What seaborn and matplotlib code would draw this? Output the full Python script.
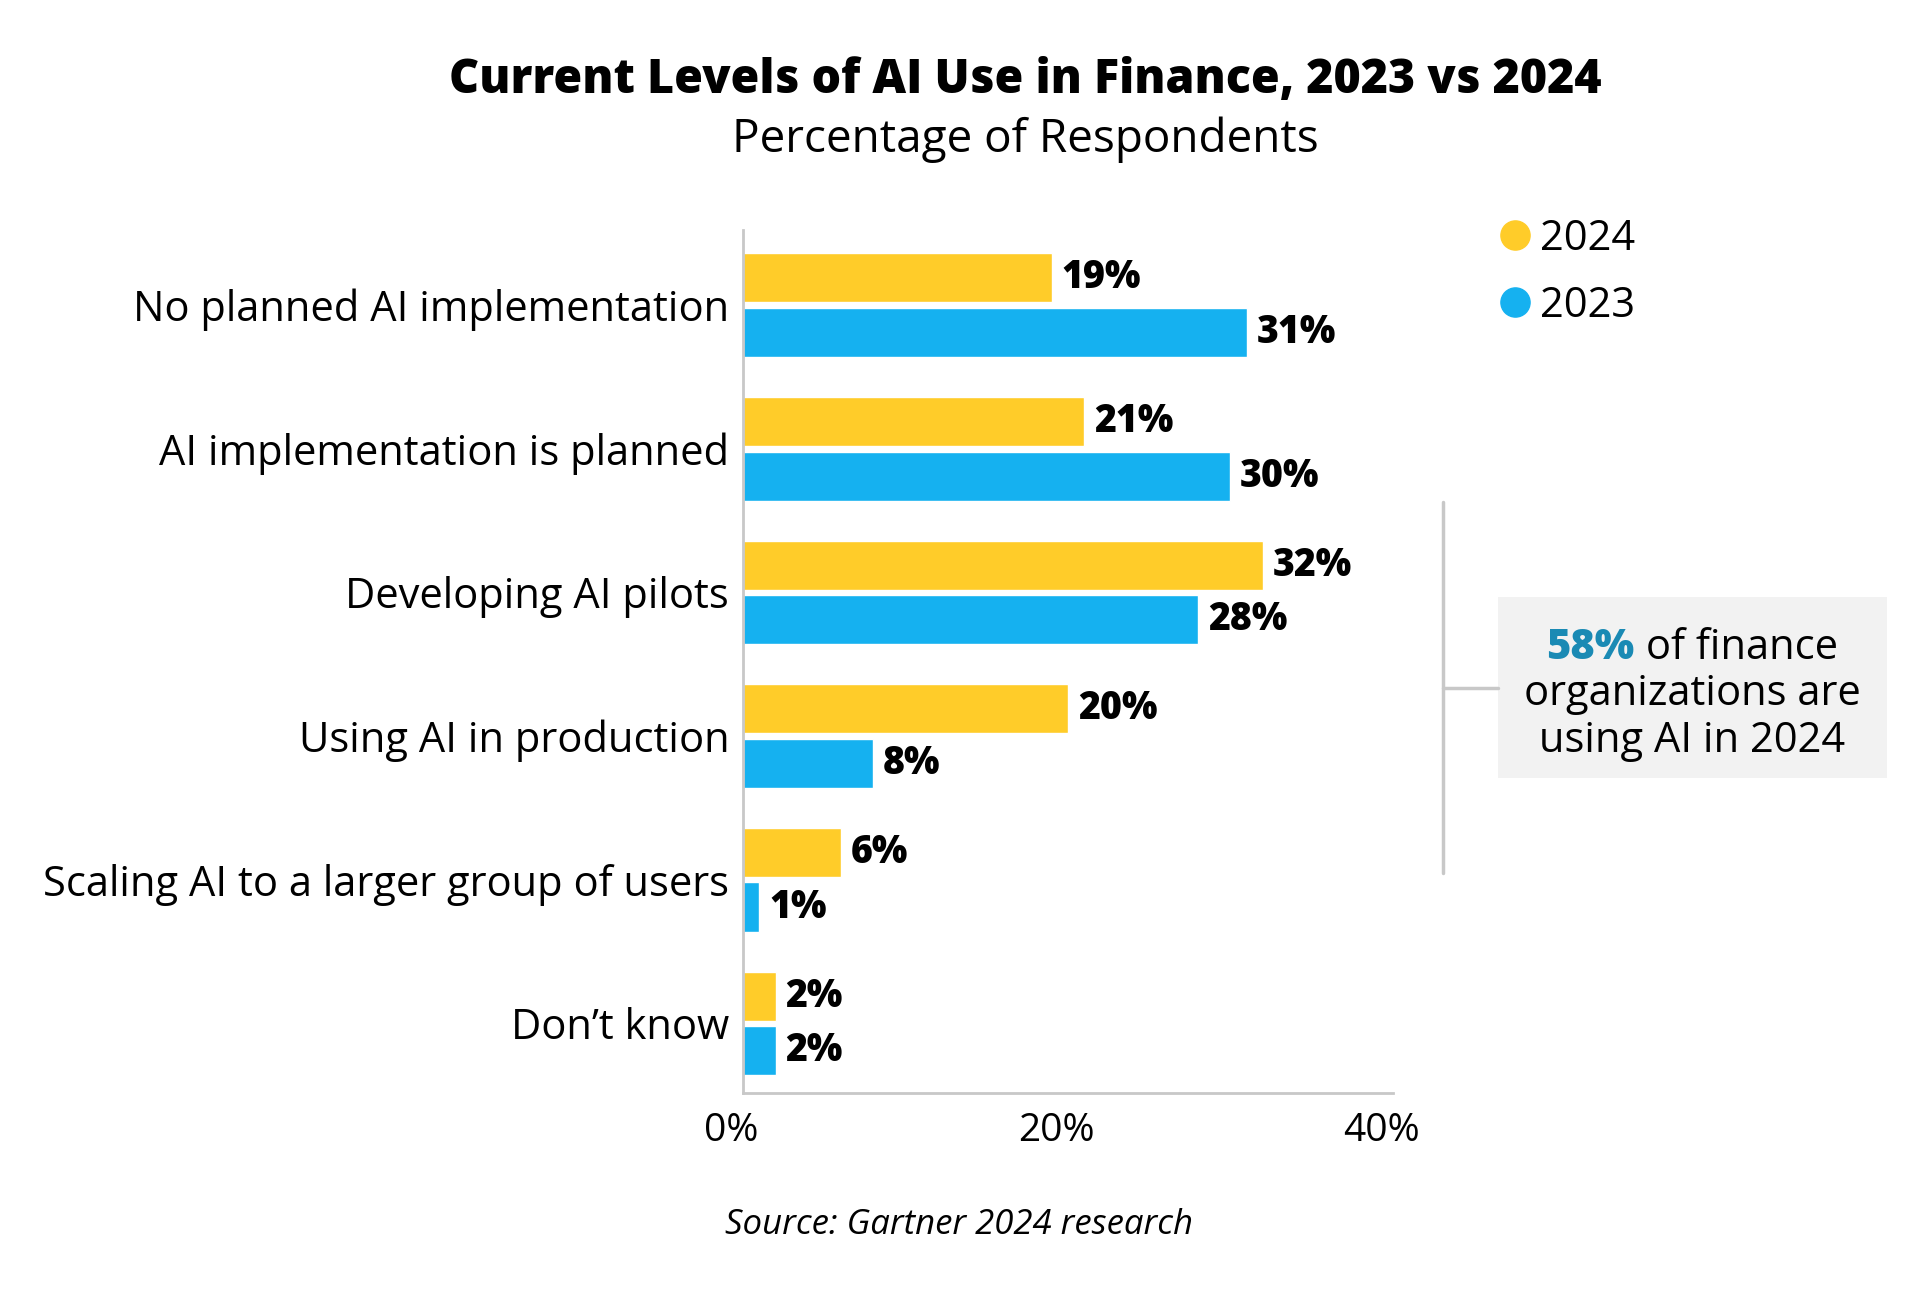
import matplotlib
matplotlib.use("Agg")
import matplotlib.pyplot as plt
import matplotlib.transforms as mtransforms
from matplotlib.lines import Line2D
from matplotlib.patches import Rectangle
import seaborn as sns
import pandas as pd

# ---- data ----
CATEGORIES = ["No planned AI implementation", "AI implementation is planned",
              "Developing AI pilots", "Using AI in production",
              "Scaling AI to a larger group of users", "Don\u2019t know"]
VALUES_2024 = [19, 21, 32, 20, 6, 2]
VALUES_2023 = [31, 30, 28, 8, 1, 2]
YEARS = ["2024", "2023"]
X_TICKS = [0, 20, 40]

YELLOW = "#FFCC29"
BLUE = "#15B1F0"
GRID_GREY = "#C8C8C8"
FONT = "Open Sans"

df = pd.DataFrame({
    "category": CATEGORIES * 2,
    "value": VALUES_2024 + VALUES_2023,
    "year": [YEARS[0]] * len(CATEGORIES) + [YEARS[1]] * len(CATEGORIES),
})

sns.set_theme(style="white")
plt.rcParams["font.family"] = [FONT, "DejaVu Sans"]
plt.rcParams["text.color"] = "black"
plt.rcParams["xtick.color"] = "black"
plt.rcParams["ytick.color"] = "black"

fig = plt.figure(figsize=(19.2, 13.07), dpi=100)
ax = fig.add_axes([0.387, 0.1637, 0.3385, 0.6603])

sns.barplot(data=df, y="category", x="value", hue="year", hue_order=YEARS,
            palette=[YELLOW, BLUE], orient="h", width=0.76, gap=0.1,
            saturation=1, ax=ax, legend=False)

for cont in ax.containers:
    ax.bar_label(cont, fmt="%d%%", padding=7, fontsize=27, fontweight="heavy",
                 color="black")

ax.set_xlim(0, 40)
ax.set_ylim(5.485, -0.523)
ax.set_xticks(X_TICKS)
ax.set_xticklabels([f"{t}%" for t in X_TICKS], fontsize=28)
ax.tick_params(axis="x", length=0, pad=14)
ax.tick_params(axis="y", length=0, pad=10, labelsize=30)
# tick labels sit a little left of their positions in the original
shift = mtransforms.ScaledTranslation(-0.12, 0, fig.dpi_scale_trans)
for lab in ax.get_xticklabels():
    lab.set_transform(lab.get_transform() + shift)
ax.set_xlabel("")
ax.set_ylabel("")
for side in ["top", "right"]:
    ax.spines[side].set_visible(False)
for side in ["left", "bottom"]:
    ax.spines[side].set_color(GRID_GREY)
    ax.spines[side].set_linewidth(2)

# titles
fig.text(0.534, 0.938, "Current Levels of AI Use in Finance, 2023 vs 2024",
         ha="center", va="center", fontsize=33.5, fontweight="heavy")
fig.text(0.534, 0.893, "Percentage of Respondents", ha="center", va="center",
         fontsize=33)

# legend
handles = [Line2D([], [], marker="o", linestyle="", markersize=21,
                  markerfacecolor=c, markeredgecolor=c) for c in [YELLOW, BLUE]]
fig.legend(handles, YEARS, loc="upper left", bbox_to_anchor=(0.7695, 0.846),
           frameon=False, fontsize=30, handletextpad=0.1, labelspacing=0.6,
           borderaxespad=0, handlelength=1.0)

# bracket + callout box
fig.add_artist(Line2D([0.7516, 0.7516], [0.3321, 0.6159], color=GRID_GREY,
                      lw=2.5, transform=fig.transFigure))
fig.add_artist(Line2D([0.7516, 0.7802], [0.4736, 0.4736], color=GRID_GREY,
                      lw=2.5, transform=fig.transFigure))
fig.add_artist(Rectangle((0.7802, 0.4047), 0.2026, 0.1385, transform=fig.transFigure,
                         facecolor="#F2F2F2", edgecolor="none"))

cx = 0.8813
fig.canvas.draw()
r = fig.canvas.get_renderer()
t1 = fig.text(0, 0.504, "58%", fontsize=30, fontweight="heavy", color="#1A8AB4",
              va="center", ha="left")
t2 = fig.text(0, 0.504, " of finance", fontsize=30, va="center", ha="left")
w1 = t1.get_window_extent(r).width / fig.bbox.width
w2 = t2.get_window_extent(r).width / fig.bbox.width
x0 = cx - (w1 + w2) / 2
t1.set_x(x0)
t2.set_x(x0 + w1)
fig.text(cx, 0.469, "organizations are", fontsize=30, ha="center", va="center")
fig.text(cx, 0.433, "using AI in 2024", fontsize=30, ha="center", va="center")

fig.text(0.4995, 0.063, "Source: Gartner 2024 research", fontsize=25,
         style="italic", ha="center", va="center")

fig.savefig("out.png", dpi=100, facecolor="white")
